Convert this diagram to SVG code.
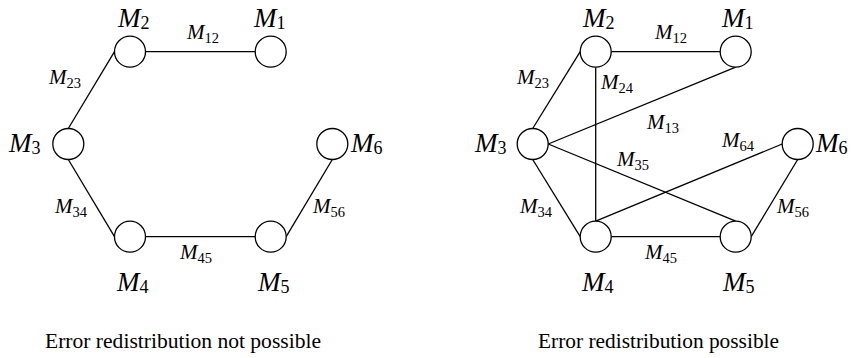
<svg xmlns="http://www.w3.org/2000/svg" width="854" height="358" viewBox="0 0 854 358">
<style>
.n{fill:#fff;stroke:#000;stroke-width:1.3}
.e{stroke:#000;stroke-width:1.3;fill:none}
.nl{font-family:"Liberation Serif",serif;font-style:italic;font-size:27px;fill:#000}
.nl .s{font-size:18px;font-style:normal}
.el{font-family:"Liberation Serif",serif;font-style:italic;font-size:21px;fill:#000}
.el .s{font-size:14.5px;font-style:normal}
.cap{font-family:"Liberation Serif",serif;font-size:20px;fill:#000}
</style>
<rect width="854" height="358" fill="#fff"/>
<g id="connectors">
<g id="left-edges">
<line class="e" x1="145.5" y1="51.7" x2="255.2" y2="51.7"/>
<line class="e" x1="114.5" y1="51.7" x2="68.3" y2="128.5"/>
<line class="e" x1="68.3" y1="159.5" x2="114.5" y2="236.7"/>
<line class="e" x1="145.5" y1="236.7" x2="255.2" y2="236.7"/>
<line class="e" x1="286.2" y1="236.7" x2="332.3" y2="159.5"/>
</g>
<g id="right-edges">
<line class="e" x1="611.2" y1="51.7" x2="720.2" y2="51.7"/>
<line class="e" x1="580.2" y1="51.7" x2="532.7" y2="128.5"/>
<line class="e" x1="595.7" y1="67.2" x2="595.7" y2="221.2"/>
<line class="e" x1="735.7" y1="67.2" x2="548.2" y2="144"/>
<line class="e" x1="548.2" y1="144" x2="735.7" y2="221.2"/>
<line class="e" x1="595.7" y1="221.2" x2="782.2" y2="144"/>
<line class="e" x1="532.7" y1="159.5" x2="580.2" y2="236.7"/>
<line class="e" x1="611.2" y1="236.7" x2="720.2" y2="236.7"/>
<line class="e" x1="751.2" y1="236.7" x2="797.7" y2="159.5"/>
</g>
</g>
<g id="edge-labels">
<text class="el" x="187" y="39">M<tspan class="s" dy="4">12</tspan></text>
<text class="el" x="49" y="83.5">M<tspan class="s" dy="4">23</tspan></text>
<text class="el" x="55" y="213">M<tspan class="s" dy="4">34</tspan></text>
<text class="el" x="180" y="259">M<tspan class="s" dy="4">45</tspan></text>
<text class="el" x="313" y="213">M<tspan class="s" dy="4">56</tspan></text>
<text class="el" x="655" y="39">M<tspan class="s" dy="4">12</tspan></text>
<text class="el" x="517" y="83.5">M<tspan class="s" dy="4">23</tspan></text>
<text class="el" x="601" y="88.5">M<tspan class="s" dy="4">24</tspan></text>
<text class="el" x="647" y="128.5">M<tspan class="s" dy="4">13</tspan></text>
<text class="el" x="617" y="166">M<tspan class="s" dy="4">35</tspan></text>
<text class="el" x="722" y="146.5">M<tspan class="s" dy="4">64</tspan></text>
<text class="el" x="520" y="213">M<tspan class="s" dy="4">34</tspan></text>
<text class="el" x="645" y="258.5">M<tspan class="s" dy="4">45</tspan></text>
<text class="el" x="777" y="213">M<tspan class="s" dy="4">56</tspan></text>
</g>
<g id="L-M1"><circle class="n" cx="270.7" cy="51.7" r="15.5"/><text class="nl" x="254" y="27">M<tspan class="s" dy="2">1</tspan></text></g>
<g id="L-M2"><circle class="n" cx="130" cy="51.7" r="15.5"/><text class="nl" x="118" y="27">M<tspan class="s" dy="2">2</tspan></text></g>
<g id="L-M3"><circle class="n" cx="68.3" cy="144" r="15.5"/><text class="nl" x="9" y="152">M<tspan class="s" dy="2">3</tspan></text></g>
<g id="L-M4"><circle class="n" cx="130" cy="236.7" r="15.5"/><text class="nl" x="117" y="291">M<tspan class="s" dy="2">4</tspan></text></g>
<g id="L-M5"><circle class="n" cx="270.7" cy="236.7" r="15.5"/><text class="nl" x="258" y="291">M<tspan class="s" dy="2">5</tspan></text></g>
<g id="L-M6"><circle class="n" cx="332.3" cy="144" r="15.5"/><text class="nl" x="351" y="152">M<tspan class="s" dy="2">6</tspan></text></g>
<g id="R-M1"><circle class="n" cx="735.7" cy="51.7" r="15.5"/><text class="nl" x="722" y="27">M<tspan class="s" dy="2">1</tspan></text></g>
<g id="R-M2"><circle class="n" cx="595.7" cy="51.7" r="15.5"/><text class="nl" x="583" y="27">M<tspan class="s" dy="2">2</tspan></text></g>
<g id="R-M3"><circle class="n" cx="532.7" cy="144" r="15.5"/><text class="nl" x="475" y="152">M<tspan class="s" dy="2">3</tspan></text></g>
<g id="R-M4"><circle class="n" cx="595.7" cy="236.7" r="15.5"/><text class="nl" x="582" y="291">M<tspan class="s" dy="2">4</tspan></text></g>
<g id="R-M5"><circle class="n" cx="735.7" cy="236.7" r="15.5"/><text class="nl" x="723" y="291">M<tspan class="s" dy="2">5</tspan></text></g>
<g id="R-M6"><circle class="n" cx="797.7" cy="144" r="15.5"/><text class="nl" x="816" y="152">M<tspan class="s" dy="2">6</tspan></text></g>
<g id="captions">
<text class="cap" x="45" y="348" textLength="276" lengthAdjust="spacingAndGlyphs">Error redistribution not possible</text>
<text class="cap" x="538" y="348" textLength="241" lengthAdjust="spacingAndGlyphs">Error redistribution possible</text>
</g>
</svg>
